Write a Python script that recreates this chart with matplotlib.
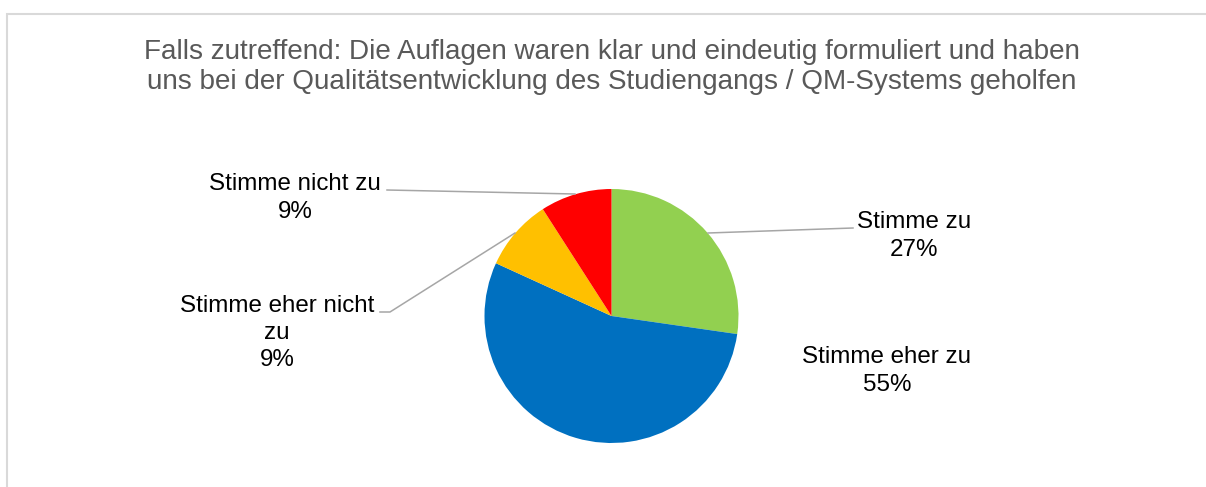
import matplotlib
matplotlib.use("Agg")
import matplotlib.pyplot as plt
from matplotlib.lines import Line2D
from matplotlib.patches import Rectangle

plt.rcParams['font.family'] = ['Liberation Sans', 'DejaVu Sans']

title = "Falls zutreffend: Die Auflagen waren klar und eindeutig formuliert und haben\nuns bei der Qualitätsentwicklung des Studiengangs / QM-Systems geholfen"
categories = ["Stimme zu", "Stimme eher zu", "Stimme eher nicht zu", "Stimme nicht zu"]
values = [3, 6, 1, 1]
percent_labels = ["27%", "55%", "9%", "9%"]
colors = ["#92D050", "#0070C0", "#FFC000", "#FF0000"]

W, H = 1206, 487
fig = plt.figure(figsize=(W / 100, H / 100), dpi=100)
fig.patch.set_facecolor("white")

def fx(x):
    return x / W

def fy(y):
    return 1 - y / H

# chart border (cropped at right/bottom)
fig.patches.append(Rectangle((fx(7), fy(H + 20)), fx(W + 20), (H + 20 - 14) / H,
                             transform=fig.transFigure, fill=False,
                             edgecolor="#D9D9D9", linewidth=1.5))

cx, cy, r = 611.5, 316, 127
ax = fig.add_axes([fx(cx - r), fy(cy + r), 2 * r / W, 2 * r / H])
ax.pie(values, colors=colors, startangle=90, counterclock=False,
       wedgeprops=dict(linewidth=0))
ax.set_xlim(-1, 1)
ax.set_ylim(-1, 1)
ax.set_aspect("auto")
ax.axis("off")

fig.text(fx(611.5), fy(67), title, ha="center", va="center", fontsize=20.1,
         color="#595959", linespacing=1.2)

lab_kw = dict(ha="center", va="center", fontsize=17.4, color="#000000", linespacing=1.3)
fig.text(fx(914), fy(236), categories[0] + "\n" + percent_labels[0], **lab_kw)
fig.text(fx(887), fy(371), categories[1] + "\n" + percent_labels[1], **lab_kw)
fig.text(fx(277), fy(333), "Stimme eher nicht\nzu\n" + percent_labels[2], **lab_kw)
fig.text(fx(295), fy(198), categories[3] + "\n" + percent_labels[3], **lab_kw)

lc = "#A6A6A6"
def leader(xs, ys):
    fig.add_artist(Line2D([fx(x) for x in xs], [fy(y) for y in ys],
                          transform=fig.transFigure, color=lc, linewidth=1.1))

leader([853, 708], [228, 233])
leader([387, 575], [190, 194])
leader([380, 390, 515], [312, 312, 233])

fig.savefig("out.png", dpi=100, facecolor="white")
